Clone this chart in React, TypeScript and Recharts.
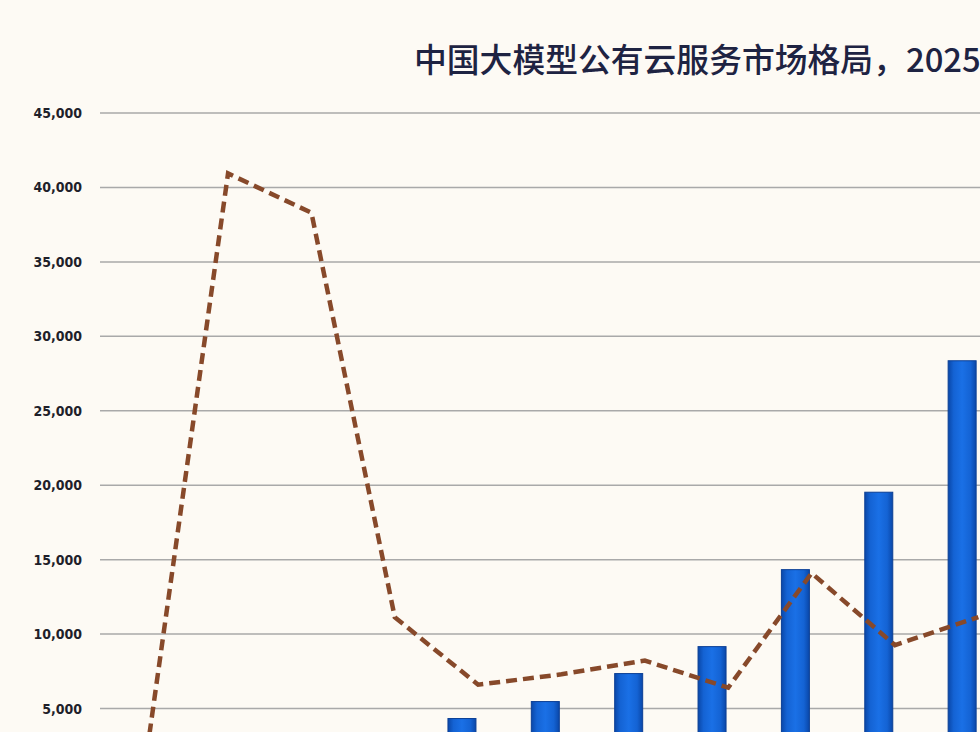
import { ComposedChart, Bar, Line, XAxis, YAxis, CartesianGrid } from "recharts";

const categories = ["1", "2", "3", "4", "5", "6", "7", "8", "9", "10", "11"];
const barValues = [800, 1300, 2000, 2900, 4330, 5470, 7350, 9160, 14330, 19530, 28360];
const lineValues = [1000, 40940, 38300, 11140, 6600, 7300, 8220, 6400, 14100, 9260, 11140];
const yTicks = [5000, 10000, 15000, 20000, 25000, 30000, 35000, 40000, 45000];

const data = categories.map((c, i) => ({
  name: c,
  bar: barValues[i],
  line: lineValues[i],
}));

const fmt = (v: number) => v.toLocaleString("en-US");

// bar sits just left of the category center
const OffsetBar = (p: any) => {
  const { x, y, width, height } = p;
  if (!height || height <= 0) return null;
  return (
    <rect
      x={x - 16.5}
      y={y}
      width={width}
      height={height}
      fill="url(#barGrad)"
      stroke="#0b3f95"
      strokeWidth={1}
    />
  );
};

export default function App() {
  return (
    <div
      style={{
        position: "fixed",
        top: 0,
        left: 0,
        width: 980,
        height: 732,
        overflow: "hidden",
        background: "#fdfaf4",
        fontFamily: "'Noto Sans CJK SC', 'Noto Sans', sans-serif",
      }}
    >
      <div
        style={{
          position: "absolute",
          left: 414,
          top: 36,
          fontSize: 32.8,
          fontWeight: 500,
          color: "#1e2342",
          whiteSpace: "nowrap",
          lineHeight: "44px",
        }}
      >
        中国大模型公有云服务市场格局，2025
      </div>
      <div style={{ position: "absolute", left: 0, top: 0 }}>
        <ComposedChart
          width={1040}
          height={820}
          data={data}
          margin={{ top: 113, right: 20, bottom: 37, left: 0 }}
        >
          <defs>
            <linearGradient id="barGrad" x1="0" y1="0" x2="1" y2="0">
              <stop offset="0" stopColor="#0a47a8" />
              <stop offset="0.2" stopColor="#1463d4" />
              <stop offset="0.5" stopColor="#1a70e6" />
              <stop offset="0.8" stopColor="#1463d4" />
              <stop offset="1" stopColor="#0a47a8" />
            </linearGradient>
          </defs>
          <CartesianGrid vertical={false} stroke="#a9a9a9" strokeWidth={1.5} />
          <XAxis dataKey="name" hide padding={{ left: 3, right: 0 }} />
          <YAxis
            width={100}
            domain={[0, 45000]}
            ticks={yTicks}
            tickFormatter={fmt}
            axisLine={false}
            tickLine={false}
            tickSize={0}
            tickMargin={18}
            tick={{ fill: "#1f1f2a", fontSize: 14, fontWeight: 700, fontFamily: "'DejaVu Sans Condensed', 'DejaVu Sans', sans-serif" }}
          />
          <Bar dataKey="bar" barSize={28} shape={OffsetBar} isAnimationActive={false} />
          <Line
            dataKey="line"
            type="linear"
            stroke="#87492a"
            strokeWidth={4.5}
            strokeDasharray="11 6"
            dot={false}
            activeDot={false}
            isAnimationActive={false}
          />
        </ComposedChart>
      </div>
    </div>
  );
}
